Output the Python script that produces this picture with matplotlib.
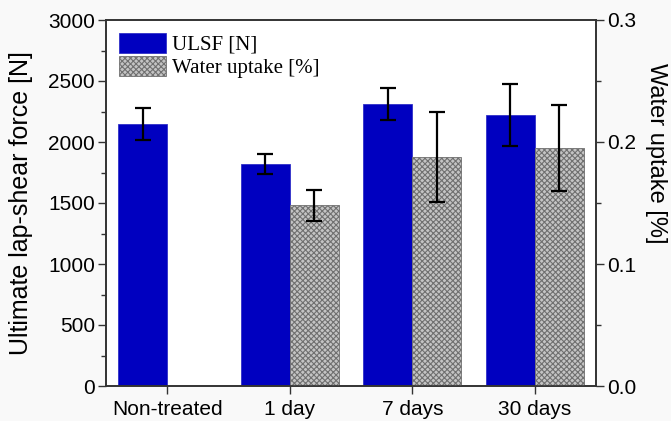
import numpy as np
import matplotlib.pyplot as plt
from matplotlib.ticker import MultipleLocator

categories = ['Non-treated', '1 day', '7 days', '30 days']
ulsf = [2150, 1820, 2310, 2220]
ulsf_err = [130, 80, 130, 255]
water = [np.nan, 0.148, 0.1875, 0.195]
water_err = [np.nan, 0.0125, 0.037, 0.035]

plt.rcParams['font.family'] = ['Liberation Sans', 'DejaVu Sans']
plt.rcParams['hatch.linewidth'] = 0.8

fig = plt.figure(figsize=(6.71, 4.21), dpi=100, facecolor='#f9f9f9')
ax = fig.add_axes([106 / 671, 35 / 421, 490 / 671, 366 / 421])
ax2 = ax.twinx()

x = np.arange(len(categories))
w = 0.4
ebar = dict(lw=1.6, capthick=1.6, ecolor='black')
b1 = ax.bar(x - w / 2, ulsf, w, color='#0000c0', edgecolor='#3030c8', lw=0.6,
            yerr=ulsf_err, capsize=6, error_kw=ebar, label='ULSF [N]', zorder=2)
b2 = ax2.bar(x + w / 2, water, w, color='#c4c4c4', edgecolor='#707070', hatch='xxxxxx',
             lw=0.6, yerr=water_err, capsize=6, error_kw=ebar,
             label='Water uptake [%]', zorder=2)

ax.set_xlim(-0.5, 3.5)
ax.set_ylim(0, 3000)
ax2.set_ylim(0, 0.3)
ax.set_xticks(x)
ax.set_xticklabels(categories)
ax.yaxis.set_major_locator(MultipleLocator(500))
ax.yaxis.set_minor_locator(MultipleLocator(250))
ax2.yaxis.set_major_locator(MultipleLocator(0.1))
ax2.yaxis.set_minor_locator(MultipleLocator(0.05))
ax2.yaxis.set_major_formatter(plt.FormatStrFormatter('%.1f'))

for a in (ax, ax2):
    a.tick_params(which='major', direction='out', length=6, width=1, labelsize=15,
                  color='#333333', pad=2)
    a.tick_params(which='minor', direction='out', length=3.5, width=1, color='#333333')
    for s in a.spines.values():
        s.set_linewidth(1.2)
        s.set_color('#333333')
ax.tick_params(axis='x', which='major', pad=4)

ax.set_ylabel('Ultimate lap-shear force [N]', fontsize=18)
ax.yaxis.label.set(ha='center', va='center', rotation_mode='default')
ax.yaxis.set_label_coords(-0.173, 0.5)
ax2.set_ylabel('Water uptake [%]', fontsize=17, rotation=270)
ax2.yaxis.label.set(ha='center', va='center', rotation_mode='default')
ax2.yaxis.set_label_coords(1.123, 0.635)

ax.legend([b1, b2], ['ULSF [N]', 'Water uptake [%]'], loc='upper left',
          bbox_to_anchor=(0.0, 1.0), prop={'family': 'Liberation Serif', 'size': 15},
          frameon=False, handlelength=2.3, handleheight=1.1, handletextpad=0.25,
          labelspacing=0.05, borderaxespad=0.3, borderpad=0.3)

fig.savefig('out.png', dpi=100, facecolor=fig.get_facecolor())
